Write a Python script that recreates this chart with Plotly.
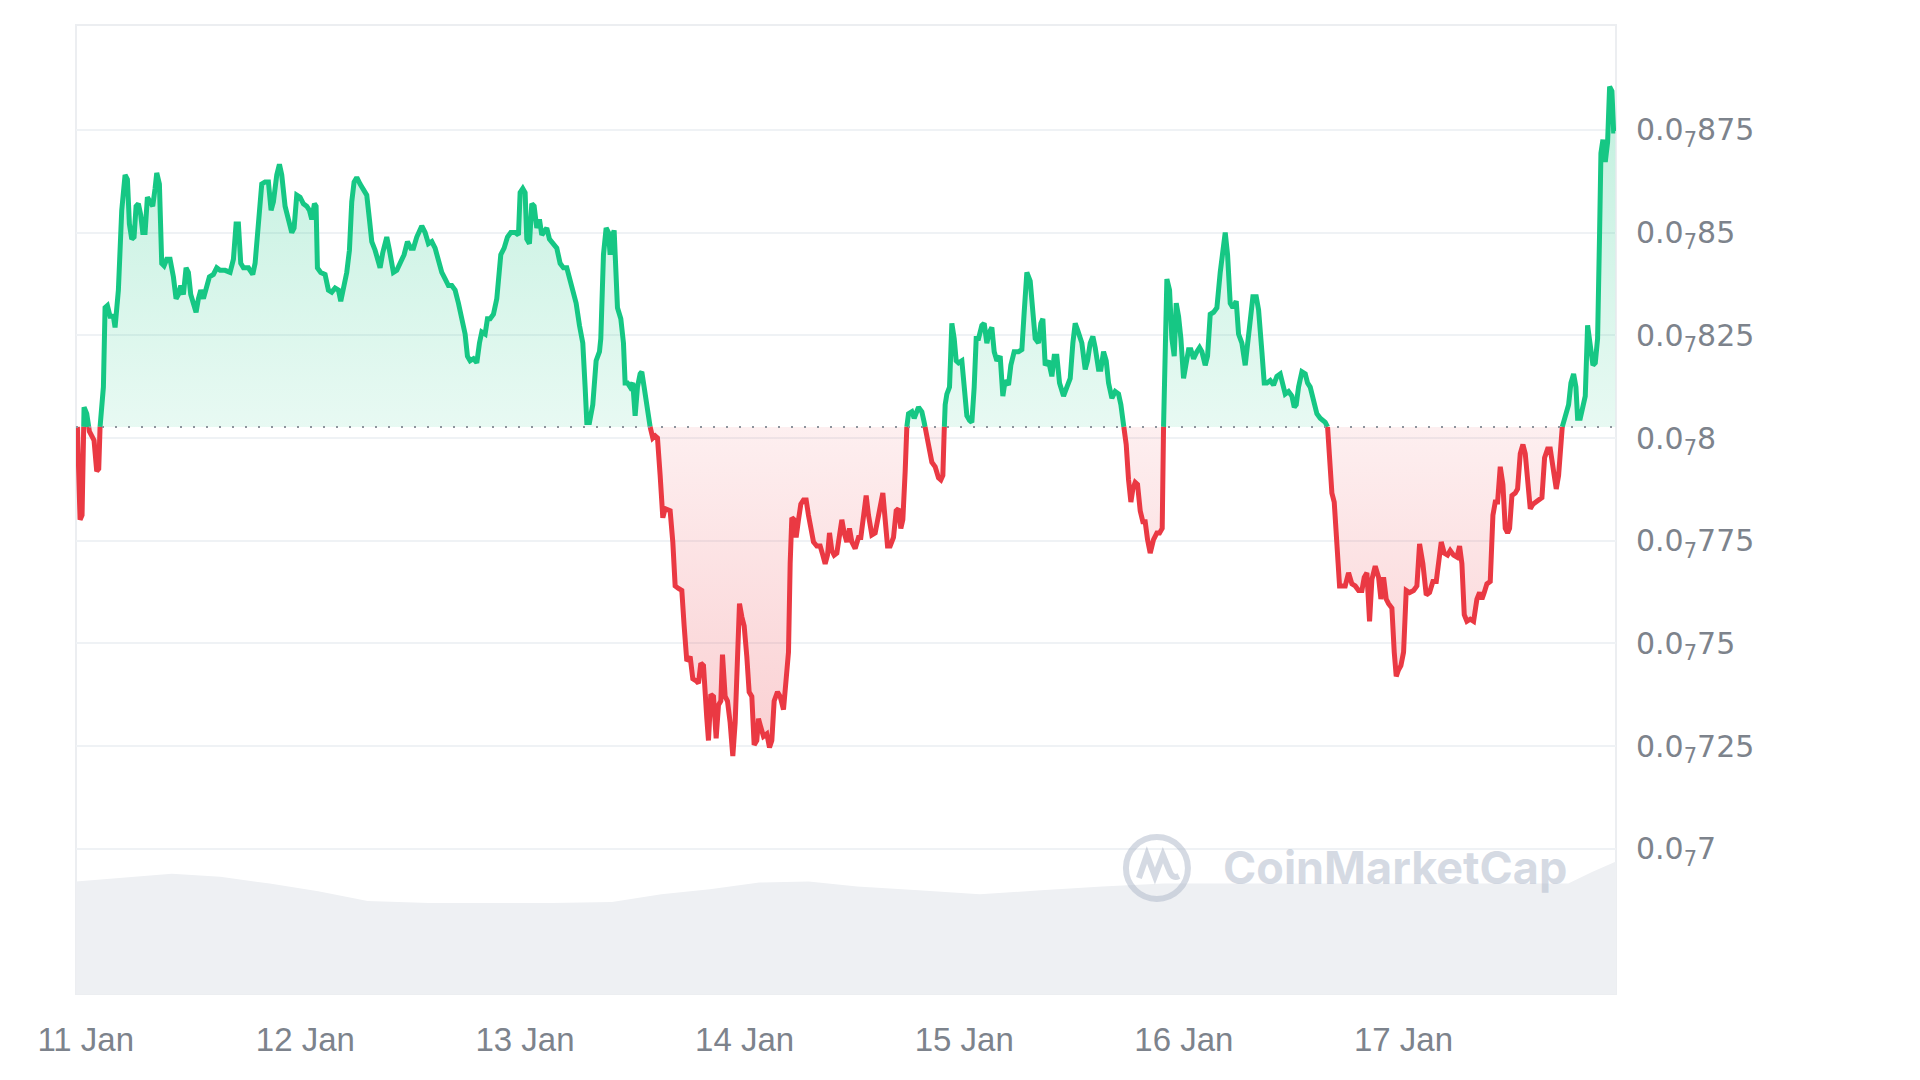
import plotly.graph_objects as go
import pandas as pd

# ---------------- data (price shown in units of 1e-7, i.e. 0.8 -> 0.0₇8) ----------------
start_time = pd.Timestamp("2024-01-11 00:00")
hours = [
    -0.915, -0.623, -0.404, -0.186, 0.106, 0.397, 0.652, 0.907, 1.198, 1.417, 1.563, 1.745, 1.927, 2.109, 2.364, 2.656, 3.020, 3.202, 3.566, 3.931,
    4.295, 4.550, 4.768, 5.024, 5.279, 5.497, 5.752, 6.007, 6.226, 6.481, 6.736, 7.027, 7.319, 7.574, 7.756, 8.047, 8.302, 8.557, 8.849, 9.213,
    9.577, 9.869, 10.124, 10.379, 10.670, 10.962, 11.217, 11.472, 11.763, 12.054, 12.310, 12.565, 12.856, 13.220, 13.512, 13.949, 14.313, 14.678, 15.224, 15.770,
    16.135, 16.426, 16.681, 16.936, 17.228, 17.774, 18.248, 18.503, 18.867, 19.231, 19.596, 19.960, 20.251, 20.506, 20.871, 21.162, 21.417, 21.781, 22.146, 22.510,
    22.765, 23.057, 23.421, 23.785, 24.149, 24.441, 24.696, 24.987, 25.169, 25.315, 25.680, 26.153, 26.517, 26.882, 27.246, 27.610, 27.865, 28.157, 28.521, 28.812,
    29.067, 29.322, 29.614, 29.978, 30.415, 30.706, 30.998, 31.253, 31.617, 31.981,
    32.164, 32.455, 32.893, 33.184, 33.621, 33.986, 34.350, 34.787, 35.151, 35.516, 35.807, 36.171, 36.718, 37.082, 37.446, 37.811, 38.175, 38.539, 38.904, 39.268,
    39.632, 39.996, 40.361, 40.725, 41.089, 41.454, 41.709, 42.000, 42.364, 42.729, 43.020, 43.275, 43.639, 43.894, 44.186, 44.550, 44.915, 45.097, 45.352, 45.716,
    46.080, 46.445, 46.918, 47.283, 47.465, 47.756, 48.011, 48.193, 48.485, 48.740, 48.995, 49.286, 49.577, 49.832, 50.087, 50.379, 50.670, 51.108, 51.472, 51.836,
    52.201, 52.565, 52.929, 53.293, 53.585, 53.949, 54.313, 54.569, 54.751, 55.042, 55.406, 55.771, 56.135, 56.281, 56.572, 56.864, 57.119, 57.301, 57.483, 57.738,
    58.030, 58.102, 58.467, 58.758, 58.940, 59.195, 59.487, 59.778, 60.033, 60.288, 60.579, 60.762, 61.017, 61.308, 61.672, 61.964, 62.219, 62.474, 62.765, 63.057,
    63.312, 63.858, 64.150, 64.405, 64.769, 65.133, 65.388, 65.680,
    66.044, 66.335, 66.700, 66.955, 67.210, 67.501, 67.866, 68.048, 68.303, 68.594, 68.886, 69.141, 69.396, 69.578, 69.869, 70.124, 70.416, 70.707, 70.962, 71.217,
    71.436, 71.691, 71.946, 72.237, 72.492, 72.784, 73.039, 73.330, 73.512, 73.767, 74.059, 74.423, 74.714, 74.969, 75.224, 75.589, 75.880, 76.244, 76.536, 76.791,
    76.973, 77.155, 77.410, 77.628, 77.884, 78.139, 78.430, 78.721, 78.976, 79.231, 79.523, 79.887, 80.252, 80.543, 80.798, 81.053, 81.272, 81.527, 81.782, 82.073,
    82.365, 82.620, 82.875, 83.166, 83.458, 83.713, 84.077, 84.441, 84.696, 84.988, 85.279, 85.534, 85.898, 86.263, 86.518, 86.809, 87.101, 87.356, 87.611, 87.902,
    88.266, 88.558, 88.813, 89.068, 89.286, 89.541, 89.723, 89.906, 90.270, 90.525, 91.000, 91.363, 91.618, 91.909, 92.201, 92.456, 92.820, 93.184, 93.440, 93.658,
    93.804, 93.913, 94.096, 94.387, 94.642, 94.897, 95.116, 95.371, 95.735, 95.990, 96.282, 96.573, 96.828, 97.083, 97.302, 97.557, 97.921, 98.176, 98.468, 98.759,
    99.014, 99.269, 99.560,
    99.924, 100.215, 100.470, 100.835, 101.090, 101.454, 101.928, 102.292, 102.547, 102.838, 103.203, 103.458, 103.749, 104.113, 104.368, 104.587, 104.842, 105.206, 105.571, 105.826,
    106.117, 106.409, 106.846, 107.210, 107.574, 107.866, 108.121, 108.376, 108.667, 108.849, 109.214, 109.469, 109.760, 110.052, 110.307, 110.671, 110.926, 111.217, 111.509, 111.764,
    112.128, 112.493, 112.857, 113.112, 113.403, 113.695, 113.950, 114.205, 114.423, 114.678, 114.933, 115.225, 115.516, 115.771, 116.026, 116.318, 116.682, 117.046, 117.338, 117.629,
    117.775, 117.957, 118.139, 118.431, 118.686, 118.941, 119.160, 119.415, 119.670, 119.961, 120.253, 120.508, 120.763, 121.054, 121.418, 121.710, 121.965, 122.329, 122.584, 122.875,
    123.240, 123.604, 123.968, 124.260, 124.515, 124.770, 125.061, 125.353, 125.717, 125.972, 126.336, 126.700, 126.955, 127.247, 127.538, 127.903, 128.158, 128.522, 128.777, 129.069,
    129.433, 129.797, 130.161, 130.526, 130.817, 131.072, 131.436, 131.801, 132.056, 132.274, 132.529, 132.894, 133.258, 133.513,
    133.803, 134.167, 134.532, 134.896, 135.443, 135.697, 135.916, 136.171, 136.426, 136.717, 137.009, 137.264, 137.628, 137.992, 138.357, 138.721, 139.085, 139.450, 139.705, 139.996,
    140.288, 140.543, 140.907, 141.271, 141.526, 141.818, 142.109, 142.364, 142.728, 142.983, 143.202, 143.457, 143.712, 144.003, 144.295, 144.659, 145.096, 145.461, 145.752, 146.116,
    146.481, 146.845, 147.209, 147.574, 147.829, 148.120, 148.448, 148.812, 149.104, 149.468, 149.832, 150.124, 150.379, 150.634, 150.925, 151.290, 151.654, 152.018, 152.310, 152.565,
    152.820, 153.111, 153.475, 153.767, 154.022, 154.277, 154.568, 154.860, 155.115, 155.370, 155.588, 155.843, 156.207, 156.462, 156.754, 157.045, 157.300, 157.555, 157.847, 158.138,
    158.393, 158.757, 159.122, 159.413, 159.741, 160.033, 160.324, 160.688, 160.943, 161.125, 161.344, 161.672, 162.036, 162.291, 162.583, 162.838, 163.020, 163.311, 163.603, 163.858,
    164.113, 164.404, 164.696, 164.951, 165.206, 165.424, 165.570, 165.789, 166.044, 166.299, 166.518, 166.773, 166.955, 167.137,
]
price = [
    0.8027, 0.7801, 0.7812, 0.8075, 0.8059, 0.8016, 0.8005, 0.7994, 0.7919, 0.7925, 0.8027, 0.8081, 0.8124, 0.8317, 0.8322, 0.8296, 0.8296, 0.8269, 0.8360, 0.8554,
    0.8640, 0.8629, 0.8521, 0.8484, 0.8489, 0.8564, 0.8570, 0.8543, 0.8500, 0.8500, 0.8586, 0.8575, 0.8564, 0.8607, 0.8645, 0.8618, 0.8425, 0.8419, 0.8435, 0.8435,
    0.8392, 0.8339, 0.8349, 0.8371, 0.8349, 0.8414, 0.8403, 0.8349, 0.8328, 0.8306, 0.8339, 0.8360, 0.8339, 0.8371, 0.8392, 0.8398, 0.8414, 0.8408, 0.8408, 0.8403,
    0.8435, 0.8521, 0.8521, 0.8425, 0.8414, 0.8414, 0.8398, 0.8425, 0.8511, 0.8618, 0.8623, 0.8623, 0.8554, 0.8575, 0.8640, 0.8666, 0.8640, 0.8564, 0.8532, 0.8500,
    0.8511, 0.8591, 0.8586, 0.8570, 0.8564, 0.8554, 0.8532, 0.8570, 0.8564, 0.8414, 0.8403, 0.8398, 0.8360, 0.8355, 0.8365, 0.8360, 0.8333, 0.8360, 0.8403, 0.8457,
    0.8575, 0.8623, 0.8634, 0.8618, 0.8602, 0.8591, 0.8532, 0.8478, 0.8457, 0.8425,
    0.8414, 0.8451, 0.8489, 0.8457, 0.8403, 0.8408, 0.8425, 0.8446, 0.8478, 0.8462, 0.8462, 0.8489, 0.8516, 0.8500, 0.8473, 0.8478, 0.8462, 0.8435, 0.8403, 0.8387,
    0.8371, 0.8371, 0.8360, 0.8328, 0.8296, 0.8253, 0.8199, 0.8188, 0.8193, 0.8183, 0.8231, 0.8258, 0.8253, 0.8290, 0.8290, 0.8301, 0.8339, 0.8398, 0.8446, 0.8462,
    0.8489, 0.8500, 0.8500, 0.8494, 0.8597, 0.8607, 0.8597, 0.8484, 0.8473, 0.8570, 0.8564, 0.8511, 0.8532, 0.8494, 0.8505, 0.8511, 0.8484, 0.8473, 0.8462, 0.8425,
    0.8414, 0.8414, 0.8382, 0.8360, 0.8328, 0.8274, 0.8231, 0.8124, 0.8038, 0.8038, 0.8081, 0.8188, 0.8210, 0.8242, 0.8446, 0.8511, 0.8500, 0.8446, 0.8489, 0.8505,
    0.8382, 0.8317, 0.8290, 0.8231, 0.8134, 0.8134, 0.8124, 0.8134, 0.8054, 0.8124, 0.8156, 0.8161, 0.8124, 0.8081, 0.8027, 0.8000, 0.8005, 0.8000, 0.7909, 0.7806,
    0.7828, 0.7823, 0.7747, 0.7640, 0.7634, 0.7629, 0.7543, 0.7457,
    0.7468, 0.7414, 0.7409, 0.7403, 0.7452, 0.7446, 0.7317, 0.7264, 0.7376, 0.7371, 0.7269, 0.7350, 0.7360, 0.7473, 0.7371, 0.7360, 0.7307, 0.7226, 0.7307, 0.7479,
    0.7597, 0.7565, 0.7543, 0.7468, 0.7382, 0.7371, 0.7253, 0.7264, 0.7317, 0.7296, 0.7274, 0.7280, 0.7247, 0.7264, 0.7360, 0.7382, 0.7371, 0.7339, 0.7403, 0.7479,
    0.7694, 0.7806, 0.7801, 0.7758, 0.7801, 0.7839, 0.7849, 0.7849, 0.7812, 0.7780, 0.7747, 0.7737, 0.7737, 0.7715, 0.7694, 0.7715, 0.7769, 0.7726, 0.7715, 0.7720,
    0.7758, 0.7801, 0.7769, 0.7747, 0.7780, 0.7747, 0.7731, 0.7758, 0.7758, 0.7801, 0.7860, 0.7812, 0.7764, 0.7769, 0.7801, 0.7833, 0.7866, 0.7801, 0.7737, 0.7737,
    0.7758, 0.7823, 0.7828, 0.7780, 0.7801, 0.7919, 0.8027, 0.8059, 0.8064, 0.8048, 0.8075, 0.8064, 0.8038, 0.8005, 0.7984, 0.7941, 0.7930, 0.7903, 0.7898, 0.7909,
    0.8016, 0.8081, 0.8107, 0.8124, 0.8279, 0.8242, 0.8188, 0.8183, 0.8188, 0.8124, 0.8054, 0.8043, 0.8038, 0.8124, 0.8242, 0.8242, 0.8274, 0.8279, 0.8231, 0.8258,
    0.8269, 0.8210, 0.8188,
    0.8199, 0.8102, 0.8140, 0.8129, 0.8177, 0.8210, 0.8210, 0.8215, 0.8306, 0.8403, 0.8382, 0.8296, 0.8242, 0.8231, 0.8279, 0.8290, 0.8177, 0.8188, 0.8150, 0.8199,
    0.8199, 0.8134, 0.8102, 0.8124, 0.8145, 0.8231, 0.8279, 0.8263, 0.8242, 0.8231, 0.8167, 0.8188, 0.8231, 0.8247, 0.8220, 0.8167, 0.8167, 0.8210, 0.8188, 0.8134,
    0.8097, 0.8113, 0.8107, 0.8081, 0.8032, 0.7984, 0.7898, 0.7844, 0.7876, 0.7892, 0.7887, 0.7823, 0.7796, 0.7796, 0.7753, 0.7720, 0.7753, 0.7769, 0.7769, 0.7780,
    0.8027, 0.8253, 0.8387, 0.8360, 0.8242, 0.8199, 0.8328, 0.8296, 0.8242, 0.8145, 0.8177, 0.8215, 0.8215, 0.8193, 0.8210, 0.8220, 0.8210, 0.8177, 0.8199, 0.8301,
    0.8306, 0.8317, 0.8403, 0.8468, 0.8500, 0.8446, 0.8328, 0.8317, 0.8333, 0.8253, 0.8231, 0.8177, 0.8231, 0.8290, 0.8344, 0.8344, 0.8312, 0.8210, 0.8134, 0.8134,
    0.8140, 0.8129, 0.8150, 0.8156, 0.8134, 0.8107, 0.8113, 0.8102, 0.8075, 0.8081, 0.8124, 0.8161, 0.8156, 0.8134,
    0.8124, 0.8091, 0.8059, 0.8048, 0.8038, 0.8027, 0.7930, 0.7866, 0.7844, 0.7737, 0.7640, 0.7640, 0.7640, 0.7672, 0.7645, 0.7640, 0.7629, 0.7629, 0.7661, 0.7672,
    0.7554, 0.7656, 0.7688, 0.7661, 0.7608, 0.7661, 0.7608, 0.7597, 0.7586, 0.7479, 0.7420, 0.7436, 0.7446, 0.7479, 0.7629, 0.7624, 0.7629, 0.7640, 0.7742, 0.7694,
    0.7618, 0.7624, 0.7651, 0.7651, 0.7694, 0.7747, 0.7720, 0.7715, 0.7726, 0.7715, 0.7710, 0.7737, 0.7694, 0.7570, 0.7554, 0.7559, 0.7554, 0.7608, 0.7624, 0.7608,
    0.7624, 0.7645, 0.7651, 0.7812, 0.7844, 0.7844, 0.7930, 0.7887, 0.7780, 0.7769, 0.7780, 0.7860, 0.7866, 0.7876, 0.7962, 0.7984, 0.7962, 0.7898, 0.7828, 0.7839,
    0.7844, 0.7850, 0.7855, 0.7952, 0.7973, 0.7973, 0.7930, 0.7876, 0.7909, 0.7973, 0.8027, 0.8054, 0.8081, 0.8134, 0.8156, 0.8124, 0.8048, 0.8048, 0.8081, 0.8102,
    0.8274, 0.8231, 0.8177, 0.8183, 0.8242, 0.8500, 0.8693, 0.8726, 0.8672, 0.8720, 0.8855, 0.8844, 0.8747, 0.8747,
]
base_price = 0.8027  # opening price (dotted reference line)

volume_hours = [-1.06, 4.0, 9.4, 14.7, 20.1, 25.4, 30.8, 37.5, 44.2, 50.9, 57.5, 62.9, 68.2, 73.6,
                79.0, 84.3, 91.0, 97.7, 104.4, 111.1, 117.8, 124.5, 137.8, 151.2, 162.0, 164.6, 167.3]
volume = [116, 120, 124, 121, 114, 106, 96, 94, 94, 94, 95, 103, 108, 115,
          116, 111, 107, 103, 107, 111, 114, 114, 114, 114, 114, 126, 137]

day_ticks = ["2024-01-11", "2024-01-12", "2024-01-13", "2024-01-14", "2024-01-15", "2024-01-16", "2024-01-17"]
day_labels = ["11 Jan", "12 Jan", "13 Jan", "14 Jan", "15 Jan", "16 Jan", "17 Jan"]
price_ticks = [0.7, 0.725, 0.75, 0.775, 0.8, 0.825, 0.85, 0.875]
price_tick_labels = ["0.0<sub>7</sub>7", "0.0<sub>7</sub>725", "0.0<sub>7</sub>75", "0.0<sub>7</sub>775",
                     "0.0<sub>7</sub>8", "0.0<sub>7</sub>825", "0.0<sub>7</sub>85", "0.0<sub>7</sub>875"]

if len(hours) != len(price):
    raise ValueError(f"length mismatch {len(hours)} vs {len(price)}")

# ---------------- split line into above / below the opening price ----------------
hx, hy = [], []
for i in range(len(price)):
    if i > 0 and (price[i - 1] - base_price) * (price[i] - base_price) < 0:
        f = (base_price - price[i - 1]) / (price[i] - price[i - 1])
        hx.append(hours[i - 1] + f * (hours[i] - hours[i - 1]))
        hy.append(base_price)
    hx.append(hours[i])
    hy.append(price[i])

tx = start_time + pd.to_timedelta(hx, unit="h")
green_line = [v if v >= base_price else None for v in hy]
red_line = [v if v <= base_price else None for v in hy]
green_fill = [max(v, base_price) for v in hy]
red_fill = [min(v, base_price) for v in hy]
base_line = [base_price] * len(hy)
vt = start_time + pd.to_timedelta(volume_hours, unit="h")

GREEN = "#16c784"
RED = "#ea3943"
LABEL = "#7d838c"

fig = go.Figure()
fig.add_trace(go.Scatter(x=tx, y=base_line, mode="lines", line=dict(width=0), hoverinfo="skip", showlegend=False))
fig.add_trace(go.Scatter(x=tx, y=green_fill, mode="lines", line=dict(width=0), fill="tonexty",
                         fillgradient=dict(type="vertical", start=base_price, stop=0.8855,
                                           colorscale=[[0, "rgba(22,199,132,0.10)"], [1, "rgba(22,199,132,0.27)"]]),
                         hoverinfo="skip", showlegend=False))
fig.add_trace(go.Scatter(x=tx, y=base_line, mode="lines", line=dict(width=0), hoverinfo="skip", showlegend=False))
fig.add_trace(go.Scatter(x=tx, y=red_fill, mode="lines", line=dict(width=0), fill="tonexty",
                         fillgradient=dict(type="vertical", start=0.7226, stop=base_price,
                                           colorscale=[[0, "rgba(234,57,67,0.24)"], [1, "rgba(234,57,67,0.08)"]]),
                         hoverinfo="skip", showlegend=False))
fig.add_trace(go.Scatter(x=tx, y=green_line, mode="lines", line=dict(color=GREEN, width=5),
                         connectgaps=False, showlegend=False))
fig.add_trace(go.Scatter(x=tx, y=red_line, mode="lines", line=dict(color=RED, width=5),
                         connectgaps=False, showlegend=False))
fig.add_trace(go.Scatter(x=vt, y=volume, yaxis="y2", mode="lines", line=dict(width=0, color="#eef0f3"),
                         fill="tozeroy", fillcolor="#eef0f3", hoverinfo="skip", showlegend=False))

WM = "rgba(172,182,200,0.5)"
fig.update_layout(
    width=1920, height=1080,
    margin=dict(l=76, r=304, t=25, b=86),
    paper_bgcolor="white", plot_bgcolor="white",
    showlegend=False,
    xaxis=dict(type="date", range=["2024-01-10 22:56", "2024-01-17 23:13"],
               tickvals=day_ticks, ticktext=day_labels,
               showgrid=False, zeroline=False, showline=False,
               ticks="outside", ticklen=16, tickcolor="rgba(0,0,0,0)",
               tickfont=dict(family="Liberation Sans, Arial, sans-serif", size=33, color=LABEL)),
    yaxis=dict(range=[0.6647, 0.9005], side="right",
               tickvals=price_ticks, ticktext=price_tick_labels,
               showgrid=True, gridcolor="#eff2f5", gridwidth=2,
               zeroline=False, showline=False,
               ticks="outside", ticklen=13, tickcolor="rgba(0,0,0,0)",
               tickfont=dict(family="DejaVu Sans, sans-serif", size=30, color=LABEL)),
    yaxis2=dict(overlaying="y", range=[0, 1000], visible=False),
    shapes=[
        dict(type="rect", xref="paper", yref="paper", x0=0, x1=1, y0=0, y1=1,
             line=dict(color="#eceef1", width=2), layer="below"),
        dict(type="line", xref="paper", yref="y", x0=0, x1=1, y0=base_price, y1=base_price,
             line=dict(color="#8d939c", width=2, dash="2px,11px"), layer="above"),
        dict(type="circle", xref="paper", yref="paper", xsizemode="pixel", ysizemode="pixel",
             xanchor=0.7019, yanchor=0.130, x0=-31, x1=31, y0=-31, y1=31,
             line=dict(color=WM, width=6)),
        dict(type="path", xref="paper", yref="paper", xsizemode="pixel", ysizemode="pixel",
             xanchor=0.7019, yanchor=0.130,
             path="M -18,-10 L -10,13 L -2,-8 L 6,13 L 13,-4 Q 16,-11 22,-8",
             line=dict(color=WM, width=6)),
    ],
    annotations=[
        dict(text="CoinMarketCap", xref="paper", yref="paper", x=0.7435, y=0.131,
             xanchor="left", yanchor="middle", showarrow=False,
             font=dict(family="Inter, sans-serif", size=45, color=WM, weight=700)),
    ],
)

fig.write_html("out.html", config={"displayModeBar": False})
